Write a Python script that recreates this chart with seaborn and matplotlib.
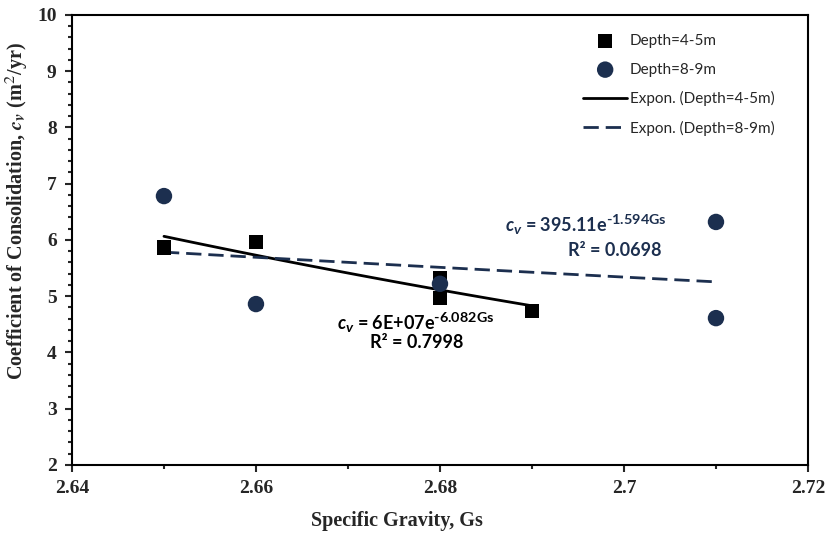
import numpy as np
import pandas as pd
import matplotlib
matplotlib.use('Agg')
import matplotlib.pyplot as plt
from matplotlib.ticker import MultipleLocator
import seaborn as sns

try:
    import matplotlib._mathtext as _mt
    _mt.SHRINK_FACTOR = 0.8  # Excel-style larger superscripts
except Exception:
    pass

# data
gs_45 = [2.65, 2.66, 2.68, 2.68, 2.69]
cv_45 = [5.87, 5.96, 5.32, 4.97, 4.74]
gs_89 = [2.65, 2.66, 2.68, 2.71, 2.71]
cv_89 = [6.78, 4.86, 5.22, 6.32, 4.61]

eq_45 = ['$c_v$ = 6E+07e$^{\u2010\\mathrm{6.082Gs}}$', 'R² = 0.7998']
eq_89 = ['$c_v$ = 395.11e$^{\u2010\\mathrm{1.594Gs}}$', 'R² = 0.0698']

navy = '#1c2f4f'

sns.set_theme(style='white')
plt.rcParams['mathtext.fontset'] = 'custom'
plt.rcParams['mathtext.rm'] = 'Lato:bold'
plt.rcParams['mathtext.it'] = 'Lato:bold:italic'
plt.rcParams['mathtext.bf'] = 'Lato:bold'


def expon_fit(x, y):
    b, ln_a = np.polyfit(np.asarray(x), np.log(np.asarray(y)), 1)
    xs = np.linspace(min(x), max(x), 50)
    return pd.DataFrame({'Gs': xs, 'cv': np.exp(ln_a) * np.exp(b * xs)})


df45 = pd.DataFrame({'Gs': gs_45, 'cv': cv_45})
df89 = pd.DataFrame({'Gs': gs_89, 'cv': cv_89})

fig = plt.figure(figsize=(8.31, 5.35), dpi=100)
ax = fig.add_axes([0.0866, 0.131, 0.8857, 0.841])

sns.scatterplot(data=df45, x='Gs', y='cv', marker='s', s=110, color='black',
                edgecolor='none', label='Depth=4-5m', ax=ax, zorder=3)
sns.scatterplot(data=df89, x='Gs', y='cv', marker='o', s=140, color=navy,
                edgecolor='none', label='Depth=8-9m', ax=ax, zorder=3)
sns.lineplot(data=expon_fit(gs_45, cv_45), x='Gs', y='cv', color='black', lw=2,
             label='Expon. (Depth=4-5m)', ax=ax, zorder=2)
sns.lineplot(data=expon_fit(gs_89, cv_89), x='Gs', y='cv', color=navy, lw=2,
             dashes=False, label='Expon. (Depth=8-9m)', ax=ax, zorder=2)
ax.lines[-1].set_dashes((5.5, 2.5))

ax.set_xlim(2.64, 2.72)
ax.set_ylim(2, 10)
ax.xaxis.set_major_locator(MultipleLocator(0.02))
ax.xaxis.set_minor_locator(MultipleLocator(0.01))
ax.yaxis.set_major_locator(MultipleLocator(1))
ax.yaxis.set_minor_locator(MultipleLocator(0.2))
ax.set_xticks([2.64, 2.66, 2.68, 2.70, 2.72])
ax.set_xticklabels(['2.64', '2.66', '2.68', '2.7', '2.72'])
ax.tick_params(which='major', direction='out', length=5, width=1.5,
               bottom=True, left=True, pad=6)
ax.tick_params(which='minor', direction='out', length=3, width=1.5,
               bottom=True, left=True)
for lab in ax.get_xticklabels() + ax.get_yticklabels():
    lab.set_fontfamily('Liberation Serif')
    lab.set_fontweight('bold')
    lab.set_fontsize(14)
for sp in ax.spines.values():
    sp.set_color('black')
    sp.set_linewidth(1.5)

ax.set_xlabel('Specific Gravity, Gs', fontfamily='Liberation Serif',
              fontweight='bold', fontsize=14.5)
ax.set_ylabel('Coefficient of Consolidation, $\\mathbfit{c}_{\\mathbfit{v}}$ (m$^{2}$/yr)',
              fontfamily='Liberation Serif', fontweight='bold', fontsize=14.5,
              math_fontfamily='stix')
ax.xaxis.set_label_coords(0.4416, -0.103)
ax.yaxis.set_label_coords(-0.057, 0.565)

leg = ax.legend(loc='upper right', bbox_to_anchor=(0.973, 0.988), frameon=False,
                handlelength=2.9, handletextpad=0.15, labelspacing=0.95,
                prop={'family': 'Lato', 'size': 11})

ax.text(2.6959, 6.27, eq_89[0], color=navy, fontfamily='Lato', fontweight='bold',
        fontsize=13, ha='center', va='center')
ax.text(2.6990, 5.82, eq_89[1], color=navy, fontfamily='Lato', fontweight='bold',
        fontsize=13, ha='center', va='center')
ax.text(2.6774, 4.54, eq_45[0], color='black', fontfamily='Lato', fontweight='bold',
        fontsize=13, ha='center', va='center')
ax.text(2.6775, 4.17, eq_45[1], color='black', fontfamily='Lato', fontweight='bold',
        fontsize=13, ha='center', va='center')

fig.savefig('out.png', dpi=100)
